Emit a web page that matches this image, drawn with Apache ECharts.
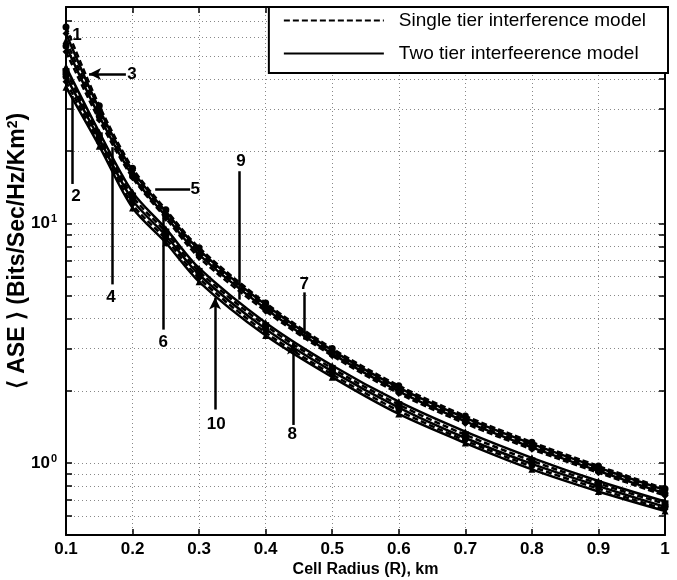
<!DOCTYPE html>
<html><head><meta charset="utf-8">
<script src="https://cdn.jsdelivr.net/npm/echarts@6/dist/echarts.min.js"></script>
<style>html,body{margin:0;padding:0;background:#fff}#c{width:677px;height:580px}</style>
</head><body><div id="c"></div>
<script>
// Cell radius (km)
const radius = [0.1, 0.15, 0.2, 0.25, 0.3, 0.4, 0.5, 0.6, 0.7, 0.8, 0.9, 1.0];
// ASE values, one array per numbered curve
const curve1  = [66, 31, 17.0, 11.4, 7.9, 4.65, 3.00, 2.10, 1.57, 1.22, 0.970, 0.780];
const curve3  = [62, 30, 16.6, 11.2, 7.75, 4.57, 2.95, 2.06, 1.54, 1.20, 0.955, 0.770];
const curve5  = [58, 29, 16.2, 11.0, 7.6, 4.48, 2.90, 2.03, 1.51, 1.18, 0.940, 0.755];
const curve9  = [55, 28, 15.8, 10.7, 7.4, 4.40, 2.85, 1.99, 1.49, 1.16, 0.925, 0.745];
const curve7  = [52, 27, 15.5, 10.5, 7.2, 4.30, 2.80, 1.95, 1.46, 1.14, 0.910, 0.730];
const curve2  = [45, 24, 13.5, 9.5, 6.5, 3.85, 2.55, 1.80, 1.35, 1.05, 0.840, 0.690];
const curve4  = [43, 23.2, 13.0, 9.2, 6.3, 3.74, 2.48, 1.75, 1.31, 1.02, 0.820, 0.675];
const curve6  = [41, 22.5, 12.5, 8.9, 6.1, 3.62, 2.41, 1.70, 1.27, 0.99, 0.800, 0.655];
const curve10 = [39, 21.7, 12.0, 8.6, 5.9, 3.50, 2.34, 1.65, 1.24, 0.965, 0.780, 0.640];
const curve8  = [37, 21, 11.6, 8.3, 5.7, 3.40, 2.28, 1.60, 1.21, 0.94, 0.760, 0.630];

const curveNames  = ['1', '3', '5', '9', '7', '2', '4', '6', '10', '8'];
const curveValues = [curve1, curve3, curve5, curve9, curve7, curve2, curve4, curve6, curve10, curve8];
const curveDashed = [true, false, true, false, true, false, true, false, true, false];
const curveSymbols = ['circle', 'diamond', 'triangle', 'circle', 'diamond', 'triangle', 'rect', 'circle', 'diamond', 'triangle'];

const legendNames = ['Single tier interference model', 'Two tier interfeerence model'];

const yTickValues = [0.5, 0.6, 0.7, 0.8, 0.9, 1, 2, 3, 4, 5, 6, 7, 8, 9, 10, 20, 30, 40, 50, 60, 70, 80];
const yLabelValues = [1, 10];

// Annotations (data coordinates)
const annotLabels  = ['1', '2', '3', '4', '5', '6', '7', '8', '9', '10'];
const annotTextAt  = [[0.1165, 61], [0.115, 13.0], [0.199, 42], [0.1677, 4.9], [0.294, 13.9], [0.246, 3.2], [0.458, 5.56], [0.4398, 1.31], [0.363, 18.2], [0.3256, 1.45]];
const annotFrom    = [null, [0.110, 14.6], [0.19, 42], [0.169, 5.56], [0.2865, 13.9], [0.246, 3.6], [0.458, 5.15], [0.441, 1.44], [0.360, 16.5], [0.324, 1.67]];
const annotTo      = [null, [0.110, 34], [0.1346, 42], [0.169, 20.8], [0.234, 13.9], [0.246, 10.6], [0.458, 3.27], [0.441, 3.18], [0.360, 4.8], [0.324, 4.9]];
const annotArrow   = [false, false, true, false, false, false, false, true, false, true];

const FONT = "'Liberation Sans',Arial,sans-serif";
const chart = echarts.init(document.getElementById('c'));

const series = curveNames.map((nm, i) => ({
  name: nm,
  type: 'line',
  data: radius.map((r, j) => [r, curveValues[i][j]]),
  smooth: 0.3,
  symbol: curveSymbols[i],
  symbolSize: 7,
  itemStyle: { color: '#000' },
  lineStyle: { color: '#000', width: 2.5, type: curveDashed[i] ? [6, 3] : 'solid' },
  z: 3
}));

legendNames.forEach((nm, i) => series.push({
  name: nm, type: 'line', data: [], symbol: 'none',
  lineStyle: { color: '#000', width: 2.5, type: i === 0 ? [6, 3] : 'solid' },
  itemStyle: { color: '#000' }
}));

const lineData = [];
annotLabels.forEach((l, i) => {
  if (!annotFrom[i]) return;
  lineData.push([
    { coord: annotFrom[i], symbol: 'none' },
    { coord: annotTo[i], symbol: annotArrow[i] ? 'arrow' : 'none', symbolSize: [9, 12] }
  ]);
});

series.push({
  name: 'annotations', type: 'line', data: [], symbol: 'none', silent: true,
  markLine: {
    silent: true, animation: false,
    lineStyle: { color: '#000', width: 2.5, type: 'solid' },
    label: { show: false },
    data: lineData
  },
  markPoint: {
    silent: true, animation: false,
    symbol: 'circle', symbolSize: 1,
    itemStyle: { color: 'rgba(0,0,0,0)' },
    label: { show: true, position: 'inside', formatter: '{b}', color: '#000',
             fontSize: 17, fontWeight: 'bold', fontFamily: FONT },
    data: annotLabels.map((l, i) => ({ name: l, coord: annotTextAt[i] }))
  },
  z: 5
});

const yAxisBase = {
  type: 'log', logBase: 10, min: 0.5, max: 80,
  axisLine: { show: true, lineStyle: { color: '#000', width: 2 } },
  axisTick: { show: true, inside: true, length: 6, customValues: yTickValues, lineStyle: { color: '#000', width: 1.5 } }
};

chart.setOption({
  animation: false,
  backgroundColor: '#fff',
  grid: { left: 66, right: 12, top: 7, bottom: 45, containLabel: false, outerBoundsMode: 'none' },
  legend: {
    data: legendNames,
    orient: 'vertical',
    right: 9, top: 7,
    itemWidth: 100, itemHeight: 14, itemGap: 14,
    padding: [4, 22, 10, 14],
    backgroundColor: '#fff',
    borderColor: '#000', borderWidth: 2,
    itemStyle: { color: 'rgba(0,0,0,0)', borderWidth: 0, opacity: 0 },
    textStyle: { fontSize: 19, color: '#000', fontFamily: FONT, padding: [0, 0, 0, 10] },
    selectedMode: false,
    z: 10
  },
  xAxis: [{
    type: 'value', min: 0.1, max: 1, interval: 0.1, position: 'bottom',
    axisLine: { show: true, onZero: false, lineStyle: { color: '#000', width: 2 } },
    axisTick: { show: true, inside: true, length: 6, lineStyle: { color: '#000', width: 1.5 } },
    axisLabel: { margin: 6, color: '#000', fontSize: 17, fontWeight: 'bold', fontFamily: FONT,
                 formatter: v => (Math.abs(v - 1) < 1e-9 ? '1' : v.toFixed(1)) },
    splitLine: { show: true, lineStyle: { type: [1, 3], color: '#888', width: 1 } },
    name: 'Cell Radius (R), km', nameLocation: 'middle', nameGap: 27, nameMoveOverlap: false,
    nameTextStyle: { fontSize: 16, fontWeight: 'bold', color: '#000', fontFamily: FONT }
  }, {
    type: 'value', min: 0.1, max: 1, interval: 0.1, position: 'top',
    axisLine: { show: true, onZero: false, lineStyle: { color: '#000', width: 2 } },
    axisTick: { show: true, inside: true, length: 6, lineStyle: { color: '#000', width: 1.5 } },
    axisLabel: { show: false }, splitLine: { show: false }
  }],
  yAxis: [Object.assign({}, yAxisBase, {
    position: 'left',
    axisLabel: {
      customValues: yLabelValues, margin: 9, color: '#000',
      formatter: v => '{b|10}{s|' + Math.round(Math.log10(v)) + '}',
      rich: {
        b: { fontSize: 17, fontWeight: 'bold', fontFamily: FONT, color: '#000' },
        s: { fontSize: 11, fontWeight: 'bold', fontFamily: FONT, color: '#000', verticalAlign: 'top', padding: [0, 0, 8, 1] }
      }
    },
    splitLine: { show: true, lineStyle: { type: [1, 3], color: '#888', width: 1 } },
    name: '{t|⟨ ASE ⟩ (Bits/Sec/Hz/Km}{s|2}{t|)}', nameLocation: 'middle', nameGap: 36, nameRotate: 90,
    nameMoveOverlap: false,
    nameTextStyle: {
      padding: [0, 0, 0, 40],
      rich: {
        t: { fontSize: 23, fontWeight: 'bold', fontFamily: FONT, color: '#000' },
        s: { fontSize: 14, fontWeight: 'bold', fontFamily: FONT, color: '#000', padding: [0, 0, 10, 0] }
      }
    }
  }), Object.assign({}, yAxisBase, {
    position: 'right',
    axisLabel: { show: false }, splitLine: { show: false }
  })],
  series: series
});
</script></body></html>
